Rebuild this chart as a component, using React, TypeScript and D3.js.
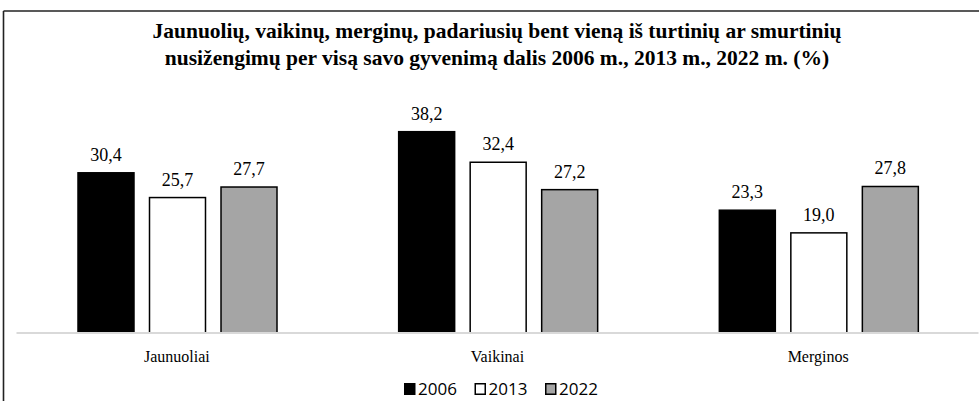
import React from 'react';
import * as d3 from 'd3';

// chart data
const categories = ['Jaunuoliai', 'Vaikinai', 'Merginos'];
const years = ['2006', '2013', '2022'];
const values2006 = [30.4, 38.2, 23.3];
const values2013 = [25.7, 32.4, 19.0];
const values2022 = [27.7, 27.2, 27.8];
const titleLines = [
    'Jaunuolių, vaikinų, merginų, padariusių bent vieną iš turtinių ar smurtinių',
    'nusižengimų per visą savo gyvenimą dalis 2006 m., 2013 m., 2022 m. (%)'
];

const seriesValues = [values2006, values2013, values2022];
const fills = ['#000000', '#ffffff', '#a5a5a5'];

const W = 979, H = 401;
const baseY = 333;

export default function App() {
    const x0 = d3.scaleBand().domain(categories).range([16.5, 978.5]).padding(0);
    const x1 = d3.scaleBand().domain(years).range([61.5, 260.5]).paddingInner(0.217).paddingOuter(0);
    const y = d3.scaleLinear().domain([0, 40]).range([baseY, baseY - 40 * 5.27]);
    const fmt = (v) => d3.format('.1f')(v).replace('.', ',');

    const legendX = d3.scalePoint().domain(years).range([404, 545]);

    return (
        <svg width={W} height={H} style={{position: 'absolute', left: 0, top: 0, background: '#fff'}}>
            <rect x={0} y={0} width={W} height={H} fill="#fff"/>
            {/* frame */}
            <line x1={3.5} y1={11} x2={W} y2={11} stroke="#222" strokeWidth={1.6}/>
            <line x1={3.5} y1={11} x2={3.5} y2={H} stroke="#222" strokeWidth={1.6}/>

            {titleLines.map((t, i) => (
                <text key={i} x={497} y={38 + i * 27} textAnchor="middle"
                      fontFamily="'Liberation Serif', 'Times New Roman', serif" fontWeight="bold"
                      fontSize="21.5px" fill="#000">{t}</text>
            ))}

            {categories.map((c, ci) => (
                <g key={c} transform={`translate(${x0(c)},0)`}>
                    {years.map((yr, si) => {
                        const v = seriesValues[si][ci];
                        const bx = x1(yr);
                        return (
                            <g key={yr}>
                                <rect x={bx} y={y(v)} width={x1.bandwidth()} height={baseY - y(v)}
                                      fill={fills[si]} stroke="#000" strokeWidth={1.5}/>
                                <text x={bx + x1.bandwidth() / 2} y={y(v) - 12} textAnchor="middle"
                                      fontFamily="'Liberation Serif', 'Times New Roman', serif"
                                      fontSize="18px" fill="#000">{fmt(v)}</text>
                            </g>
                        );
                    })}
                    <text x={x0.bandwidth() / 2} y={362} textAnchor="middle"
                          fontFamily="'Liberation Serif', 'Times New Roman', serif"
                          fontSize="16px" fill="#000">{c}</text>
                </g>
            ))}

            {/* axis baseline */}
            <line x1={16.5} y1={baseY} x2={978.5} y2={baseY} stroke="#d9d9d9" strokeWidth={2}/>

            {/* legend */}
            {years.map((yr, i) => (
                <g key={yr} transform={`translate(${legendX(yr)},0)`}>
                    <rect x={0.75} y={383.75} width={10} height={10.5} fill={fills[i]} stroke="#000" strokeWidth={1.5}/>
                    <text x={14} y={395} fontFamily="'Open Sans', 'Noto Sans', sans-serif"
                          fontSize="17px" fill="#000">{yr}</text>
                </g>
            ))}
        </svg>
    );
}
